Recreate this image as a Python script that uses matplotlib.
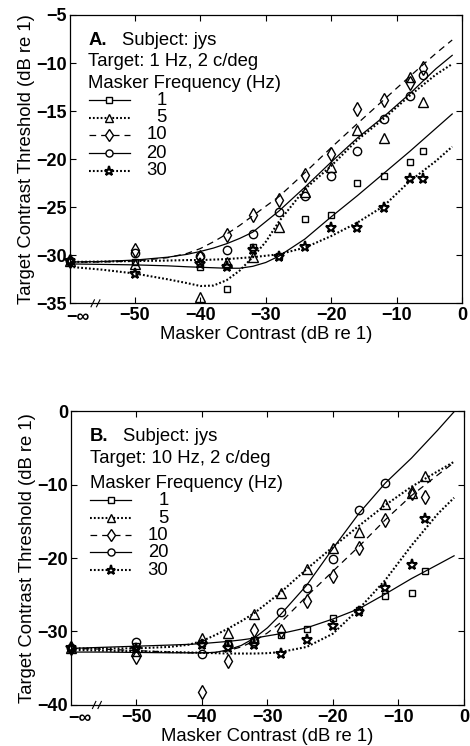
import numpy as np
import matplotlib
matplotlib.use("Agg")
import matplotlib.pyplot as plt
from matplotlib.lines import Line2D

plt.rcParams['font.family'] = ['Liberation Sans', 'DejaVu Sans']
plt.rcParams['lines.scale_dashes'] = False

# ---------------- data ----------------
masker_db = [-np.inf, -50, -40, -36, -32, -28, -24, -20, -16, -12, -8, -6]
NEG_INF_POS = -60  # where "-inf" is drawn on the axis

# Panel A: target 1 Hz, 2 c/deg
A_1 = [-30.6, -30.7, -31.2, -33.5, -29.1, -30.1, -26.2, -25.8, -22.5, -21.8, -20.3, -19.2]
A_5 = [-30.6, -30.9, -34.3, -30.7, -30.2, -27.1, -23.4, -20.8, -17.0, -17.8, -11.4, -14.1]
A_10 = [-30.6, -29.5, -30.2, -27.9, -25.8, -24.3, -21.6, -19.5, -14.8, -13.8, -12.1, -10.5]
A_20 = [-30.6, -29.8, -30.1, -29.5, -27.8, -25.5, -23.8, -21.8, -19.2, -15.8, -13.4, -11.2]
A_30 = [-30.6, -31.9, -30.9, -31.25, -29.5, -30.2, -29.1, -27.2, -27.2, -25.1, -22.1, -22.1]

# Panel B: target 10 Hz, 2 c/deg
B_1 = [-32.3, -32.0, -31.5, -31.5, -31.2, -30.5, -29.7, -28.2, -27.1, -25.2, -24.7, -21.8]
B_5 = [-32.3, -32.6, -30.9, -30.2, -27.6, -24.7, -21.5, -18.7, -16.4, -12.6, -11.2, -8.8]
B_10 = [-32.3, -33.5, -38.3, -34.0, -29.8, -29.9, -25.8, -22.5, -18.7, -14.8, -11.2, -11.7]
B_20 = [-32.3, -31.4, -33.0, -31.8, -31.3, -27.4, -24.1, -20.2, -13.5, -9.8]
B_30 = [-32.3, -32.4, -31.8, -32.3, -31.8, -33.0, -31.2, -29.3, -27.3, -24.1, -21.0, -14.7]

# model fit curves
fit_x = [-60, -55, -50, -45, -42, -40, -38, -36, -34, -32, -30, -28, -24, -20, -16, -12, -8, -4, -1.5]
fitA_1 = [-30.9, -30.95, -31.0, -31.1, -31.2, -31.25, -31.3, -31.35, -31.35, -31.15, -30.75, -30.1, -28.3, -26.0, -23.8, -21.5, -19.2, -16.8, -15.3]
fitA_5 = [-31.2, -31.5, -31.9, -32.5, -32.9, -33.2, -33.15, -32.6, -31.6, -30.2, -28.6, -26.5, -23.1, -20.7, -18.0, -15.8, -13.4, -11.2, -10.1]
fitA_10 = [-30.7, -30.7, -30.6, -30.25, -29.8, -29.3, -28.6, -27.8, -26.9, -25.9, -24.9, -23.9, -21.4, -18.8, -16.3, -13.85, -11.4, -9.0, -7.6]
fitA_20 = [-30.7, -30.65, -30.5, -30.2, -29.9, -29.6, -29.25, -28.8, -28.25, -27.6, -26.5, -25.4, -22.9, -20.3, -17.8, -15.6, -13.2, -10.6, -9.2]
fitA_30 = [-30.7, -30.65, -30.6, -30.55, -30.5, -30.5, -30.45, -30.4, -30.3, -30.2, -30.05, -29.9, -29.2, -28.0, -26.6, -24.9, -22.3, -20.2, -18.7]

fitB_1 = [-32.3, -32.15, -32.0, -31.85, -31.75, -31.65, -31.5, -31.35, -31.15, -30.9, -30.6, -30.3, -29.5, -28.3, -26.9, -24.9, -22.8, -20.9, -19.7]
fitB_5 = [-32.3, -32.3, -32.3, -32.1, -31.8, -31.3, -30.5, -29.6, -28.6, -27.5, -26.1, -24.7, -21.5, -18.5, -15.6, -12.8, -10.3, -8.2, -6.9]
fitB_10 = [-32.3, -32.4, -32.6, -32.8, -32.9, -32.9, -32.85, -32.6, -32.1, -31.3, -30.2, -28.8, -25.2, -21.8, -18.4, -14.8, -11.5, -8.7, -7.0]
fitB_20 = [-32.8, -32.8, -32.85, -32.9, -32.9, -32.9, -32.85, -32.5, -31.9, -30.9, -29.5, -27.7, -23.7, -18.7, -13.9, -9.8, -6.4, -2.6, -0.1]
fitB_30 = [-32.5, -32.6, -32.7, -32.8, -32.85, -32.9, -32.95, -33.0, -33.0, -33.0, -32.95, -32.8, -32.1, -30.3, -26.9, -23.0, -18.3, -14.0, -11.8]

masker_freqs = ['1', '5', '10', '20', '30']
x_ticks = [-50, -40, -30, -20, -10, 0]

# ---------------- styles ----------------
SOLID = '-'
DOT = (0, (1.3, 1.5))
DASH = (0, (4.8, 3.6))
styles = [
    dict(marker='s', ms=5.0, ls=SOLID, lw=0.9, mew=1.0),
    dict(marker='^', ms=7.0, ls=DOT, lw=1.5, mew=1.0),
    dict(marker='d', ms=7.2, ls=DASH, lw=0.9, mew=1.0),
    dict(marker='o', ms=6.0, ls=SOLID, lw=0.9, mew=1.0),
    dict(marker='*', ms=8.0, ls=DOT, lw=1.5, mew=1.5),
]

fig = plt.figure(figsize=(4.70, 7.46), dpi=100)
axA = fig.add_axes([0.148, 0.5934, 0.835, 0.3865])
axB = fig.add_axes([0.151, 0.055, 0.836, 0.394])


def xpos(vals):
    return [NEG_INF_POS if np.isinf(v) else v for v in vals]


def draw_panel(ax, series, fits, ylim, yticks, letter, target, ypos_text, ypos_leg):
    for (pts, fit, st) in zip(series, fits, styles):
        xs = xpos(masker_db[:len(pts)])
        ax.plot(fit_x, fit, color='black', linestyle=st['ls'], lw=st['lw'],
                dash_capstyle='butt', zorder=2)
        ax.plot(xs, pts, linestyle='none', marker=st['marker'], ms=st['ms'],
                mfc='none', mec='black', mew=st['mew'], zorder=3, clip_on=False)
    ax.set_xlim(-60, 0)
    ax.set_ylim(*ylim)
    ax.set_xticks(x_ticks)
    ax.set_xticklabels([f"{t}".replace('-', '\u2212') for t in x_ticks])
    ax.set_yticks(yticks)
    ax.set_yticklabels([f"{t}".replace('-', '\u2212') for t in yticks])
    ax.tick_params(direction='in', top=True, right=True, length=4, width=0.8,
                   labelsize=13, pad=3)
    ax.tick_params(axis='y', pad=2)
    for lab in ax.get_xticklabels() + ax.get_yticklabels():
        lab.set_fontweight('bold')
    for sp in ax.spines.values():
        sp.set_linewidth(0.9)
    ax.text(-58.7, -0.018, '\u2212\u221e', transform=ax.get_xaxis_transform(),
            ha='center', va='top', fontsize=13, fontweight='bold')
    # axis break marks
    bx = 0.066
    for off in (-0.007, 0.007):
        ax.add_line(Line2D([bx + off - 0.0043, bx + off + 0.0043], [-0.012, 0.012],
                           transform=ax.transAxes, color='black', lw=0.8, clip_on=False))
    ax.set_xlabel('Masker Contrast (dB re 1)', fontsize=13.3, labelpad=1)
    ax.set_ylabel('Target Contrast Threshold (dB re 1)', fontsize=13.3, labelpad=1)

    # text block / legend
    tx = 0.048
    ax.text(tx, ypos_text[0], letter, transform=ax.transAxes, fontsize=13.3,
            fontweight='bold', va='center', ha='left')
    ax.text(0.133, ypos_text[0], 'Subject: jys', transform=ax.transAxes,
            fontsize=13.3, va='center', ha='left')
    ax.text(tx, ypos_text[1], target, transform=ax.transAxes, fontsize=13.3,
            va='center', ha='left')
    ax.text(tx, ypos_text[2], 'Masker Frequency (Hz)', transform=ax.transAxes,
            fontsize=13.3, va='center', ha='left')
    for lab, st, yy in zip(masker_freqs, styles, ypos_leg):
        ax.add_line(Line2D([0.049, 0.153], [yy, yy], transform=ax.transAxes,
                           color='black', linestyle=st['ls'], lw=st['lw'], clip_on=False))
        ax.add_line(Line2D([0.101], [yy], transform=ax.transAxes, marker=st['marker'],
                           ms=st['ms'] * 0.85, mfc='white', mec='black', mew=st['mew'],
                           linestyle='none', clip_on=False))
        ax.text(0.248, yy, lab, transform=ax.transAxes, fontsize=13.3,
                va='center', ha='right')


draw_panel(axA, [A_1, A_5, A_10, A_20, A_30],
           [fitA_1, fitA_5, fitA_10, fitA_20, fitA_30],
           (-35, -5), [-35, -30, -25, -20, -15, -10, -5],
           'A.', 'Target: 1 Hz, 2 c/deg',
           [0.913, 0.837, 0.764], [0.705, 0.643, 0.584, 0.521, 0.459])
draw_panel(axB, [B_1, B_5, B_10, B_20, B_30],
           [fitB_1, fitB_5, fitB_10, fitB_20, fitB_30],
           (-40, 0), [-40, -30, -20, -10, 0],
           'B.', 'Target: 10 Hz, 2 c/deg',
           [0.915, 0.837, 0.755], [0.697, 0.636, 0.578, 0.520, 0.459])

fig.savefig('out.png', dpi=100)
